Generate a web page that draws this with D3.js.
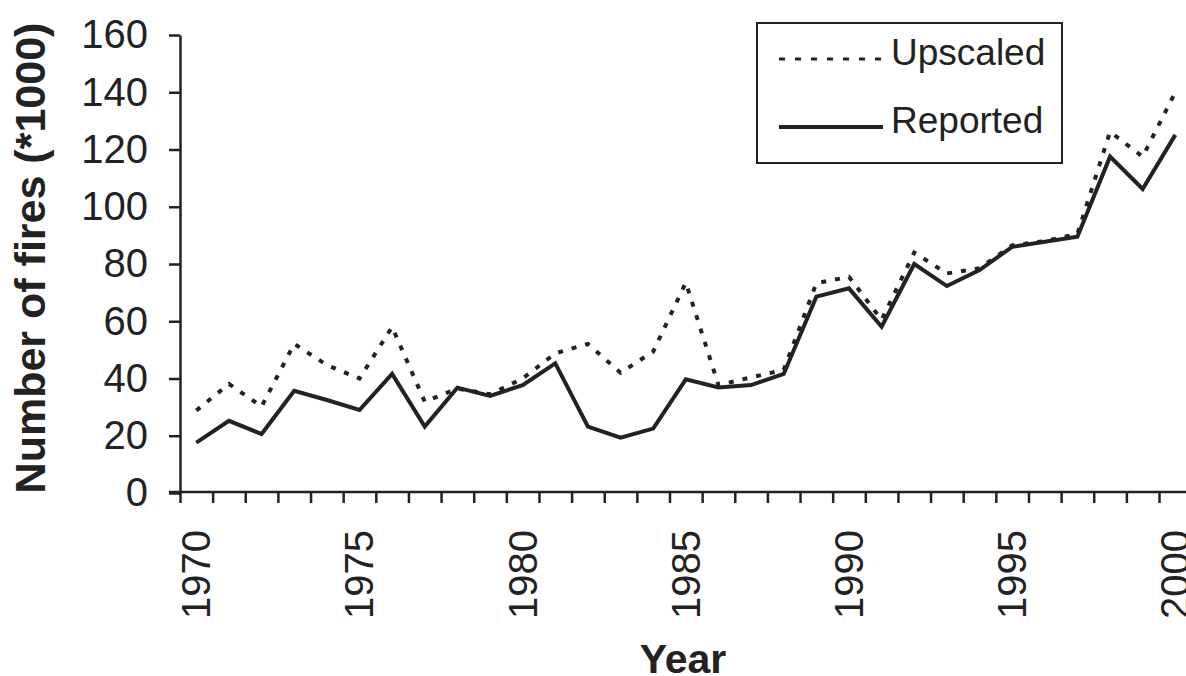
<!DOCTYPE html>
<html>
<head>
<meta charset="utf-8">
<script src="https://cdn.jsdelivr.net/npm/d3@7"></script>
<style>
  body { margin: 0; background: #fff; }
  text { font-family: "Liberation Sans", Arial, sans-serif; fill: #222; }
</style>
</head>
<body>
<div class="canvas"></div>
<script>
// data (thousands of fires per year)
const years = d3.range(1970, 2001);
const reported = [17.6, 25.2, 20.6, 35.7, 32.5, 29, 41.6, 23.2, 36.8, 33.9,
                  37.7, 45.3, 23.2, 19.3, 22.5, 39.7, 36.9, 37.7, 41.6, 68.6,
                  71.5, 58.1, 80, 72.3, 77.9, 86, 87.8, 89.5, 117.5, 106.2, 125.1];
const upscaled = [28.8, 38.1, 30.2, 52.1, 44.7, 40, 58, 31.9, 36.5, 34.5,
                  40, 48.8, 52.1, 42, 49.4, 73.5, 37.7, 40.4, 43, 73.3,
                  75.5, 60.5, 84, 76.7, 78.5, 86.5, 88, 90.5, 126.2, 117.5, 140];
const yTicks = [0, 20, 40, 60, 80, 100, 120, 140, 160];
const labelYears = [1970, 1975, 1980, 1985, 1990, 1995, 2000];
const seriesNames = ['Upscaled', 'Reported'];

const ink = '#222';

const svg = d3.select('.canvas').append('svg')
    .attr('width', 1186)
    .attr('height', 676);

const x = d3.scaleLinear().domain([1970, 2000]).range([180, 1159]);
const y = d3.scaleLinear().domain([0, 160]).range([493, 35]);

// y axis
const yAxis = svg.append('g')
    .attr('transform', 'translate(180,0)')
    .call(d3.axisLeft(y).tickValues(yTicks).tickSize(11).tickSizeOuter(0).tickPadding(21));
yAxis.selectAll('path, line').attr('stroke', ink).attr('stroke-width', 2.5);
yAxis.selectAll('text')
    .style('font-size', '40px')
    .attr('fill', ink);

// x axis: ticks on year boundaries, labels at year centres
const xAxis = svg.append('g')
    .attr('transform', 'translate(0,492)')
    .call(d3.axisBottom(x).tickValues(d3.range(1970, 2001)).tickSize(11).tickFormat(''));
xAxis.select('.domain').remove();
xAxis.selectAll('line').attr('stroke', ink).attr('stroke-width', 2.5);
xAxis.append('line')
    .attr('x1', x(1969.66))
    .attr('x2', 1186)
    .attr('stroke', ink)
    .attr('stroke-width', 2.5);

svg.append('g').selectAll('text')
    .data(labelYears)
    .join('text')
    .attr('transform', d => `translate(${x(d + 0.5)},530) rotate(-90)`)
    .attr('dy', '0.35em')
    .attr('text-anchor', 'end')
    .style('font-size', '40px')
    .text(d => d);

// axis titles
svg.append('text')
    .attr('transform', 'translate(45,258) rotate(-90)')
    .attr('text-anchor', 'middle')
    .style('font-size', '43px')
    .style('font-weight', 'bold')
    .text('Number of fires (*1000)');
svg.append('text')
    .attr('x', 683)
    .attr('y', 673)
    .attr('text-anchor', 'middle')
    .style('font-size', '41px')
    .style('font-weight', 'bold')
    .text('Year');

// lines
const line = d3.line()
    .x((d, i) => x(years[i] + 0.5))
    .y(d => y(d));

svg.append('path')
    .datum(upscaled)
    .attr('d', line)
    .attr('fill', 'none')
    .attr('stroke', ink)
    .attr('stroke-width', 4)
    .attr('stroke-dasharray', '5,9');

svg.append('path')
    .datum(reported)
    .attr('d', line)
    .attr('fill', 'none')
    .attr('stroke', ink)
    .attr('stroke-width', 4)
    .attr('stroke-linejoin', 'miter');

// legend
const legend = svg.append('g');
legend.append('rect')
    .attr('x', 757)
    .attr('y', 23)
    .attr('width', 305)
    .attr('height', 140)
    .attr('fill', '#fff')
    .attr('stroke', ink)
    .attr('stroke-width', 2);

const rows = legend.selectAll('g.row')
    .data(seriesNames)
    .join('g')
    .attr('class', 'row')
    .attr('transform', (d, i) => `translate(0,${59 + i * 68})`);
rows.append('line')
    .attr('x1', 779)
    .attr('x2', 883)
    .attr('stroke', ink)
    .attr('stroke-width', (d, i) => i === 0 ? 3 : 4)
    .attr('stroke-dasharray', (d, i) => i === 0 ? '6,10' : null);
rows.append('text')
    .attr('x', 891)
    .attr('y', 5.5)
    .style('font-size', '37px')
    .text(d => d);
</script>
</body>
</html>
